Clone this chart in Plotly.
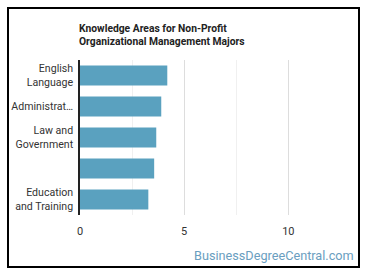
import plotly.graph_objects as go

categories = ["English<br>Language", "Administrat…", "Law and<br>Government", " ", "Education<br>and Training"]
cat_ids = ["c1", "c2", "c3", "c4", "c5"]
values = [4.19, 3.9, 3.66, 3.56, 3.28]
x_ticks = [0, 5, 10]

W, H = 370, 278
L, R, T, B = 80, 330, 60, 215

def px(x):
    return (x - L) / (R - L)

def py(y):
    return (B - y) / (B - T)

fig = go.Figure()
fig.add_trace(go.Bar(
    y=cat_ids, x=values, orientation="h",
    marker=dict(color="#5AA1BF", line=dict(width=0)),
    hoverinfo="skip",
))

fig.update_layout(
    width=W, height=H,
    margin=dict(l=L, r=W - R, t=T, b=H - B, autoexpand=False),
    paper_bgcolor="white", plot_bgcolor="white",
    showlegend=False,
    bargap=0.36,
    font=dict(family="Roboto", size=11, color="#333333"),
    xaxis=dict(
        range=[0, 12.0], tickvals=x_ticks, ticktext=[str(v) for v in x_ticks],
        showgrid=True, gridcolor="#DDDDDD", gridwidth=1,
        minor=dict(tickvals=[2.5, 7.5], showgrid=True, gridcolor="#F0F0F0", gridwidth=1),
        zeroline=False, showline=False, ticks="", ticklabelstandoff=8,
        tickfont=dict(size=11, color="#333333"), automargin=False,
    ),
    yaxis=dict(
        categoryorder="array", categoryarray=cat_ids[::-1],
        tickvals=cat_ids, ticktext=categories,
        showline=True, linecolor="#222222", linewidth=1.5,
        showgrid=False, zeroline=False, ticks="", ticklabelstandoff=3,
        tickfont=dict(size=10.6, color="#333333"), automargin=False,
    ),
)

fig.add_annotation(
    text="<b>Knowledge Areas for Non-Profit<br>Organizational Management Majors</b>",
    xref="paper", yref="paper", x=px(77), y=py(20), xanchor="left", yanchor="top",
    align="left", showarrow=False, font=dict(size=10.3, color="#222222", family="Roboto"),
)
fig.add_annotation(
    text="BusinessDegreeCentral.com",
    xref="paper", yref="paper", x=px(356), y=py(255), xanchor="right", yanchor="middle",
    showarrow=False, font=dict(size=12.7, color="#6A9EC0", family="Roboto"),
)
fig.add_shape(
    type="rect", xref="paper", yref="paper",
    x0=px(8), x1=px(359), y0=py(267), y1=py(8),
    line=dict(color="black", width=2), fillcolor="rgba(0,0,0,0)",
)

fig.write_html("out.html")
